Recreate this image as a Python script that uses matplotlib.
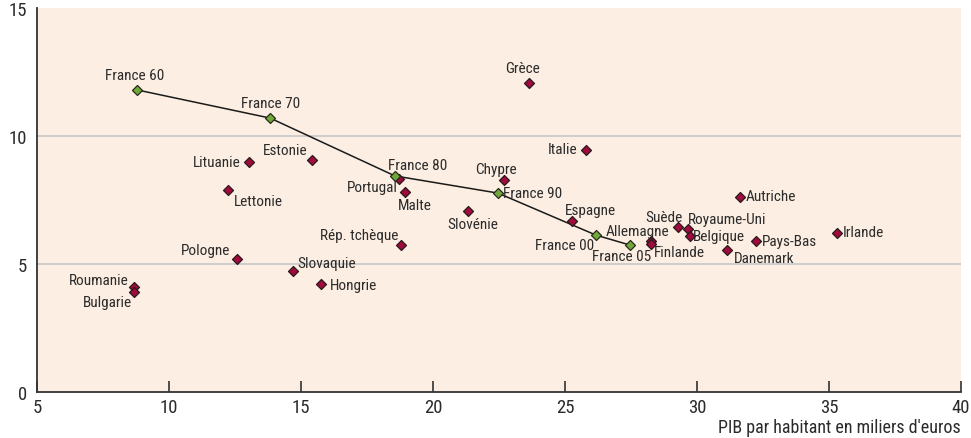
import matplotlib
matplotlib.use("Agg")
import matplotlib.pyplot as plt
from matplotlib import font_manager

# ---- data ----
france_labels = ["France 60", "France 70", "France 80", "France 90", "France 00", "France 05"]
france_x = [8.79, 13.83, 18.56, 22.46, 26.17, 27.46]
france_y = [11.80, 10.70, 8.44, 7.77, 6.13, 5.74]

countries = ["Grèce", "Italie", "Estonie", "Lituanie", "Lettonie", "Portugal", "Malte",
             "Chypre", "Slovénie", "Espagne", "Rép. tchèque", "Pologne", "Slovaquie",
             "Hongrie", "Roumanie", "Bulgarie", "Allemagne", "Finlande", "Suède",
             "Royaume-Uni", "Belgique", "Autriche", "Pays-Bas", "Danemark", "Irlande"]
country_x = [23.64, 25.80, 15.42, 13.03, 12.23, 18.71, 18.94,
             22.69, 21.33, 25.27, 18.79, 12.58, 14.70,
             15.76, 8.67, 8.67, 28.26, 28.26, 29.28,
             29.66, 29.73, 31.63, 32.23, 31.14, 35.30]
country_y = [12.07, 9.45, 9.06, 8.98, 7.89, 8.32, 7.81,
             8.28, 7.07, 6.68, 5.74, 5.20, 4.73,
             4.22, 4.10, 3.91, 5.90, 5.78, 6.45,
             6.37, 6.09, 7.62, 5.90, 5.55, 6.21]

x_ticks = [5, 10, 15, 20, 25, 30, 35, 40]
y_ticks = [0, 5, 10, 15]
x_title = "PIB par habitant en miliers d'euros"

# ---- label placement (offset in points, ha, va) ----
label_pos = {
    "France 60": (-2, 6, "center", "bottom"),
    "France 70": (0, 6, "center", "bottom"),
    "France 80": (-5, 3, "left", "bottom"),
    "France 90": (4, 0, "left", "center"),
    "France 00": (-1, -2, "right", "top"),
    "France 05": (-6, -3, "center", "top"),
    "Grèce": (-5, 6, "center", "bottom"),
    "Italie": (-6, 1, "right", "center"),
    "Estonie": (-3, 2, "right", "bottom"),
    "Lituanie": (-6, 0, "right", "center"),
    "Lettonie": (4, -3, "left", "top"),
    "Portugal": (-1, -1, "right", "top"),
    "Malte": (-5, -4, "left", "top"),
    "Chypre": (-6, 3, "center", "bottom"),
    "Slovénie": (3, -4, "center", "top"),
    "Espagne": (-5, 3, "left", "bottom"),
    "Rép. tchèque": (-2, 2, "right", "bottom"),
    "Pologne": (-5, 1, "right", "bottom"),
    "Slovaquie": (3, 1, "left", "bottom"),
    "Hongrie": (6, -1, "left", "center"),
    "Roumanie": (-4, 0, "right", "bottom"),
    "Bulgarie": (-1, -2, "right", "top"),
    "Allemagne": (13, 2, "right", "bottom"),
    "Finlande": (2, -1, "left", "top"),
    "Suède": (3, 2, "right", "bottom"),
    "Royaume-Uni": (0, 2, "left", "bottom"),
    "Belgique": (2, 0, "left", "center"),
    "Autriche": (4, 1, "left", "center"),
    "Pays-Bas": (4, 0, "left", "center"),
    "Danemark": (5, -1, "left", "top"),
    "Irlande": (4, 1, "left", "center"),
}

# pick a condensed font if one is installed
fam, stretch, narrow = "Liberation Sans", "normal", False
cond_vals = {"condensed", "semi-condensed", "extra-condensed", "ultra-condensed"}
names = {f.name for f in font_manager.fontManager.ttflist}
for cand in ["Liberation Sans Narrow", "Roboto Condensed", "Open Sans Condensed",
             "DejaVu Sans Condensed", "Noto Sans Condensed"]:
    if cand in names:
        fam, narrow = cand, True
        break
if not narrow:
    for f in font_manager.fontManager.ttflist:
        if str(f.stretch) in cond_vals and f.name in ("Roboto", "Open Sans", "Noto Sans", "DejaVu Sans"):
            fam, stretch, narrow = f.name, f.stretch, True
            break

plt.rcParams["font.family"] = [fam, "DejaVu Sans"]
plt.rcParams["font.stretch"] = stretch
lab_fs = 11.0 if narrow else 9.2
tick_fs = 13.5 if narrow else 11.5
title_fs = 13.0 if narrow else 10.2

fig = plt.figure(figsize=(9.71, 4.39), dpi=100)
ax = fig.add_axes([37 / 971, 46 / 439, 924 / 971, 384 / 439])
ax.set_facecolor("#FCEEE2")

ax.set_xlim(5, 40)
ax.set_ylim(0, 15)

for yv in y_ticks:
    if 0 < yv < 15:
        ax.axhline(yv, color="#C8C8C8", lw=1.2, zorder=1)

ax.plot(france_x, france_y, color="#1a1a1a", lw=1.1, zorder=2)
ax.scatter(country_x, country_y, marker="D", s=26, facecolor="#9E0B3C",
           edgecolor="#2a1a1a", linewidth=0.9, zorder=3)
ax.scatter(france_x, france_y, marker="D", s=26, facecolor="#6FA83B",
           edgecolor="#2a2a1a", linewidth=0.9, zorder=4)

txt_color = "#2b2b2b"
for nm, xv, yv in list(zip(france_labels, france_x, france_y)) + list(zip(countries, country_x, country_y)):
    dx, dy, ha, va = label_pos[nm]
    ax.annotate(nm, (xv, yv), xytext=(dx, dy), textcoords="offset points",
                ha=ha, va=va, fontsize=lab_fs, color=txt_color, zorder=5)

for s in ["top", "right"]:
    ax.spines[s].set_visible(False)
ax.spines["left"].set_color("#333333")
ax.spines["bottom"].set_color("#333333")
ax.spines["left"].set_linewidth(1.3)
ax.spines["bottom"].set_linewidth(1.3)

ax.set_xticks(x_ticks)
ax.set_yticks(y_ticks)
ax.set_xticklabels([str(v) for v in x_ticks])
ax.set_yticklabels([str(v) for v in y_ticks])
ax.tick_params(axis="x", direction="in", length=8, width=1.2, color="#333333",
               labelsize=tick_fs, labelcolor=txt_color, pad=4)
ax.tick_params(axis="y", length=0, labelsize=tick_fs, labelcolor=txt_color, pad=7)

fig.text(961 / 971, 1 - 428 / 439, x_title, ha="right", va="center",
         fontsize=title_fs, color=txt_color)

fig.savefig("out.png", dpi=100, facecolor="white")
